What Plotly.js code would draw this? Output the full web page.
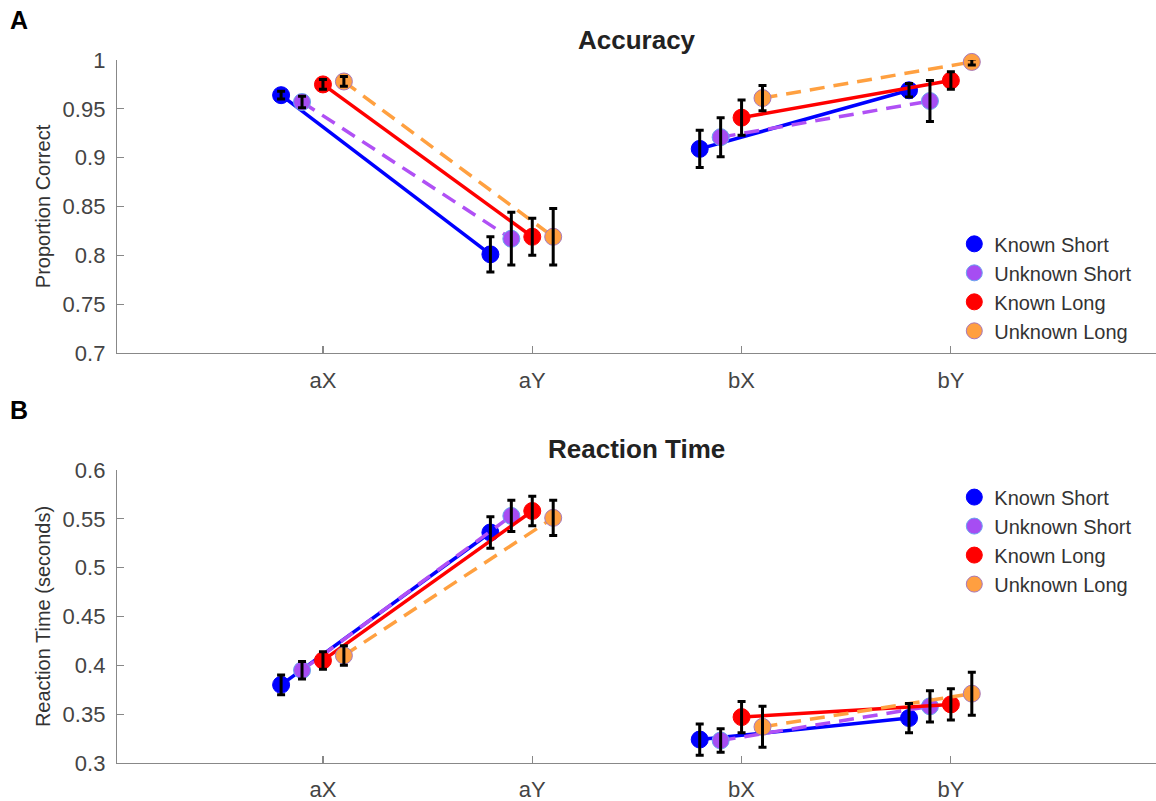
<!DOCTYPE html>
<html><head><meta charset="utf-8">
<script src="https://cdn.plot.ly/plotly-3.0.1.min.js"></script>
<style>html,body{margin:0;padding:0;background:#fff}#chart{width:1156px;height:801px}</style>
</head><body><div id="chart"></div>
<script>
// ---- data ----
const categories = ['aX', 'aY', 'bX', 'bY'];
const categoryPos = [1, 2, 3, 4];
const seriesNames = ['Known Short', 'Unknown Short', 'Known Long', 'Unknown Long'];

const accKnownShort   = [0.964, 0.801, 0.909, 0.969];
const accUnknownShort = [0.957, 0.817, 0.921, 0.958];
const accKnownLong    = [0.975, 0.819, 0.941, 0.979];
const accUnknownLong  = [0.978, 0.819, 0.961, 0.998];
const accErrKnownShort   = [0.004, 0.018, 0.019, 0.007];
const accErrUnknownShort = [0.006, 0.027, 0.020, 0.021];
const accErrKnownLong    = [0.005, 0.019, 0.018, 0.009];
const accErrUnknownLong  = [0.005, 0.029, 0.013, 0.003];

const rtKnownShort   = [0.380, 0.536, 0.324, 0.346];
const rtUnknownShort = [0.395, 0.553, 0.323, 0.358];
const rtKnownLong    = [0.405, 0.558, 0.347, 0.360];
const rtUnknownLong  = [0.410, 0.551, 0.337, 0.371];
const rtErrKnownShort   = [0.010, 0.016, 0.016, 0.015];
const rtErrUnknownShort = [0.009, 0.016, 0.012, 0.016];
const rtErrKnownLong    = [0.009, 0.015, 0.016, 0.016];
const rtErrUnknownLong  = [0.010, 0.018, 0.021, 0.022];

const accTickVals = [0.7, 0.75, 0.8, 0.85, 0.9, 0.95, 1];
const accTickText = ['0.7', '0.75', '0.8', '0.85', '0.9', '0.95', '1'];
const rtTickVals = [0.3, 0.35, 0.4, 0.45, 0.5, 0.55, 0.6];
const rtTickText = ['0.3', '0.35', '0.4', '0.45', '0.5', '0.55', '0.6'];

// ---- styles ----
const seriesOffsets = [-0.2, -0.1, 0, 0.1];
const lineColors = ['#0000ff', '#b050f5', '#ff0000', '#ffa040'];
const markerColors = ['#0000ff', '#a64df2', '#ff0000', '#ff9f40'];
const markerEdges = ['#0000ff', '#6aa4f0', '#ff0000', '#a878b8'];
const dashes = ['solid', '15px,9px', 'solid', '15px,9px'];
const FONT = 'Liberation Sans, Arial, Helvetica, sans-serif';

const accSeries = [accKnownShort, accUnknownShort, accKnownLong, accUnknownLong];
const accErrs = [accErrKnownShort, accErrUnknownShort, accErrKnownLong, accErrUnknownLong];
const rtSeries = [rtKnownShort, rtUnknownShort, rtKnownLong, rtUnknownLong];
const rtErrs = [rtErrKnownShort, rtErrUnknownShort, rtErrKnownLong, rtErrUnknownLong];

function withGap(arr) { return [arr[0], arr[1], null, arr[2], arr[3]]; }

const traces = [];
function addPanel(series, errs, xa, ya, legendId) {
  series.forEach((vals, i) => {
    const xs = categoryPos.map(p => p + seriesOffsets[i]);
    traces.push({
      type: 'scatter', mode: 'lines+markers', xaxis: xa, yaxis: ya,
      x: withGap(xs), y: withGap(vals), connectgaps: false,
      line: {color: lineColors[i], width: 3.5, dash: dashes[i]},
      marker: {size: 17, color: markerColors[i], line: {color: markerEdges[i], width: 1}},
      showlegend: false, cliponaxis: false, hoverinfo: 'skip'
    });
  });
  series.forEach((vals, i) => {
    const xs = categoryPos.map(p => p + seriesOffsets[i]);
    traces.push({
      type: 'scatter', mode: 'markers', xaxis: xa, yaxis: ya,
      x: xs, y: vals,
      marker: {size: 2, color: 'rgba(0,0,0,0)'},
      error_y: {type: 'data', array: errs[i], visible: true, color: '#000', thickness: 3, width: 4},
      showlegend: false, cliponaxis: false, hoverinfo: 'skip'
    });
  });
  seriesNames.forEach((name, i) => {
    traces.push({
      type: 'scatter', mode: 'markers', xaxis: xa, yaxis: ya,
      x: [null], y: [null], name: name, legend: legendId,
      marker: {size: 19, color: markerColors[i], line: {color: markerEdges[i], width: 1}},
      showlegend: true
    });
  });
}
addPanel(accSeries, accErrs, 'x', 'y', 'legend');
addPanel(rtSeries, rtErrs, 'x2', 'y2', 'legend2');

const axisCommon = {
  showgrid: false, zeroline: false, showline: true, linecolor: '#888888', linewidth: 1.2,
  ticks: 'inside', ticklen: 7, tickcolor: '#888888', tickwidth: 1.2,
  tickfont: {family: FONT, size: 22, color: '#444444'}
};
const xRange = [0.016, 4.98];
const titleFont = {family: FONT, size: 20, color: '#333333'};
const layout = {
  width: 1156, height: 801,
  margin: {l: 117, r: 0, t: 60, b: 38},
  paper_bgcolor: '#ffffff', plot_bgcolor: '#ffffff',
  font: {family: FONT, color: '#333333'},
  xaxis: Object.assign({}, axisCommon, {domain: [0, 1], anchor: 'y', range: xRange,
    tickvals: categoryPos, ticktext: categories, ticklabelstandoff: 7}),
  yaxis: Object.assign({}, axisCommon, {domain: [0.5832, 1], anchor: 'x', range: [0.7, 1.0],
    tickvals: accTickVals, ticktext: accTickText, ticklabelstandoff: 6,
    title: {text: 'Proportion Correct', font: titleFont, standoff: 6}}),
  xaxis2: Object.assign({}, axisCommon, {domain: [0, 1], anchor: 'y2', range: xRange,
    tickvals: categoryPos, ticktext: categories, ticklabelstandoff: 6}),
  yaxis2: Object.assign({}, axisCommon, {domain: [0, 0.4168], anchor: 'x2', range: [0.3, 0.6],
    tickvals: rtTickVals, ticktext: rtTickText, ticklabelstandoff: 6,
    title: {text: 'Reaction Time (seconds)', font: titleFont, standoff: 6}}),
  legend: {x: 0.982, y: 0.587, xanchor: 'right', yanchor: 'bottom', bgcolor: 'rgba(0,0,0,0)',
    font: {family: FONT, size: 20, color: '#333333'}, itemsizing: 'trace', tracegroupgap: 0},
  legend2: {x: 0.982, y: 0.406, xanchor: 'right', yanchor: 'top', bgcolor: 'rgba(0,0,0,0)',
    font: {family: FONT, size: 20, color: '#333333'}, itemsizing: 'trace', tracegroupgap: 0},
  annotations: [
    {text: '<b>Accuracy</b>', xref: 'paper', yref: 'paper', x: 0.5, y: 1.028, xanchor: 'center', yanchor: 'middle',
     showarrow: false, font: {family: FONT, size: 26, color: '#222222'}},
    {text: '<b>Reaction Time</b>', xref: 'paper', yref: 'paper', x: 0.5, y: 0.4467, xanchor: 'center', yanchor: 'middle',
     showarrow: false, font: {family: FONT, size: 26, color: '#222222'}},
    {text: '<b>A</b>', xref: 'paper', yref: 'paper', x: -0.105, y: 1.057, xanchor: 'left', yanchor: 'middle',
     showarrow: false, font: {family: FONT, size: 25, color: '#000000'}},
    {text: '<b>B</b>', xref: 'paper', yref: 'paper', x: -0.105, y: 0.502, xanchor: 'left', yanchor: 'middle',
     showarrow: false, font: {family: FONT, size: 25, color: '#000000'}}
  ]
};
Plotly.newPlot('chart', traces, layout, {displayModeBar: false, staticPlot: true});
</script>
</body></html>
